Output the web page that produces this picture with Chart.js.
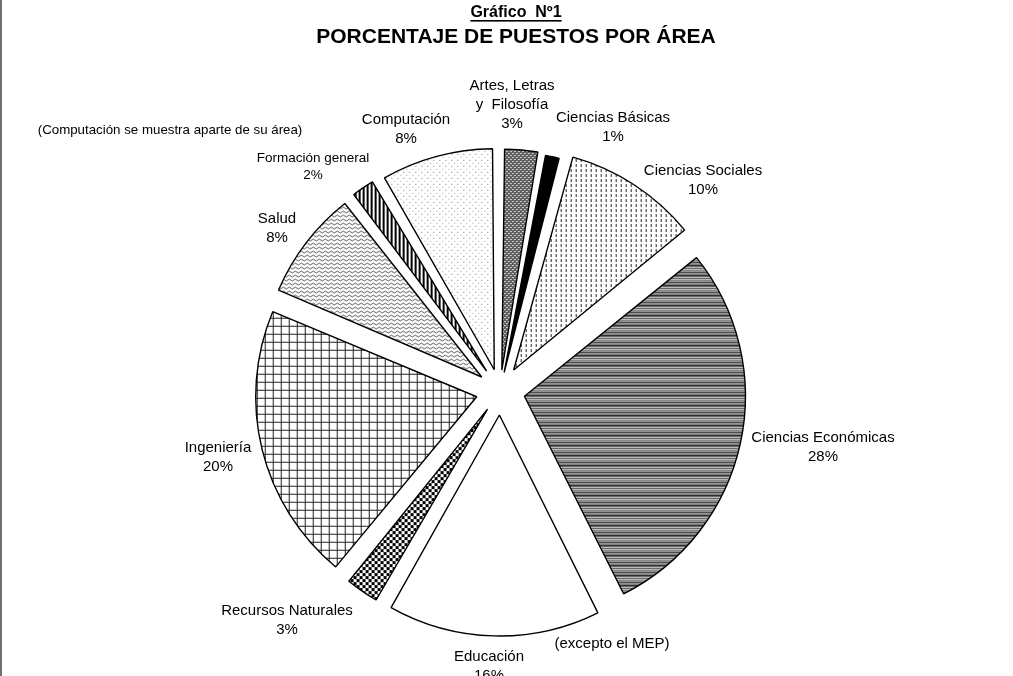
<!DOCTYPE html>
<html><head><meta charset="utf-8">
<script src="https://cdn.jsdelivr.net/npm/chart.js@4.4.1/dist/chart.umd.min.js"></script>
<style>
html,body{margin:0;padding:0;background:#fff;}
#wrap{position:relative;width:1013px;height:676px;overflow:hidden;background:#fff;}
#edge{position:absolute;left:0;top:0;width:2px;height:676px;background:#707070;}
canvas{display:block;}
</style></head><body>
<div id="wrap"><canvas id="c" width="1013" height="676"></canvas><div id="edge"></div></div>
<script>
// ---------- DATA ----------
const categories = ["Artes, Letras y Filosofía","Ciencias Básicas","Ciencias Sociales","Ciencias Económicas","Educación","Recursos Naturales","Ingeniería","Salud","Formación general","Computación"];
// slice shares estimated from the drawn angles
const shares = [2.8,1.4,10.0,28.4,15.6,2.8,20.3,8.2,2.1,8.4];
// percentages as printed on the chart
const percentLabels = ["3%","1%","10%","28%","16%","3%","20%","8%","2%","8%"];
const labelLines = [["Artes, Letras","y  Filosofía"],["Ciencias Básicas"],["Ciencias Sociales"],["Ciencias Económicas"],["Educación"],["Recursos Naturales"],["Ingeniería"],["Salud"],["Formación general"],["Computación"]];
const chartTitle = "Gráfico  Nº1";
const chartSubtitle = "PORCENTAJE DE PUESTOS POR ÁREA";
const noteComputacion = "(Computación se muestra aparte de su área)";
const noteEducacion = "(excepto el MEP)";

// ---------- STYLE ----------
const FONT = '"Liberation Sans", Arial, Helvetica, sans-serif';
const PIE_RADIUS = 221;
// Chart.js v4 translates an arc by offset/4
const sliceOffsets = [84,76,100,100,96,88,96,92,96,88];
// label anchor (first line centre) relative to pie centre
const labelAnchors = [[12,-305],[113,-273],[203,-220],[323,47],[-11,266],[-213,220],[-282,57],[-223,-172],[-187,-233],[-94,-271]];
const labelSizes = [15,15,15,15,15,15,15,15,13.5,15];

function pat(w,h,fn){
  const c=document.createElement('canvas');c.width=w;c.height=h;
  const x=c.getContext('2d');fn(x,w,h);
  return document.getElementById('c').getContext('2d').createPattern(c,'repeat');
}
const patterns = [
  pat(4,4,(x)=>{x.fillStyle='#5a5a5a';x.fillRect(0,0,4,4);x.fillStyle='#e0e0e0';x.fillRect(0,0,2,1);x.fillRect(2,2,2,1);}),
  '#000000',
  pat(5,5,(x)=>{x.fillStyle='#fff';x.fillRect(0,0,5,5);x.fillStyle='#222';x.fillRect(2,0,1,3);}),
  pat(1,10,(x)=>{const cols=['#1a1a1a','#8a8a8a','#cfcfcf','#3a3a3a','#efefef','#5c5c5c','#a8a8a8','#262626','#c0c0c0','#666666'];cols.forEach((c,i)=>{x.fillStyle=c;x.fillRect(0,i,1,1);});}),
  '#ffffff',
  pat(6,6,(x)=>{x.fillStyle='#fff';x.fillRect(0,0,6,6);x.fillStyle='#000';x.fillRect(0,0,3,3);x.fillRect(3,3,3,3);}),
  pat(8,8,(x)=>{x.fillStyle='#fff';x.fillRect(0,0,8,8);x.fillStyle='#222';x.fillRect(0,0,8,1);x.fillRect(0,0,1,8);}),
  pat(6,4,(x)=>{x.fillStyle='#fff';x.fillRect(0,0,6,4);x.strokeStyle='#555';x.lineWidth=1;x.beginPath();x.moveTo(0,2);x.quadraticCurveTo(1.5,0,3,2);x.quadraticCurveTo(4.5,4,6,2);x.stroke();}),
  pat(4,4,(x)=>{x.fillStyle='#fff';x.fillRect(0,0,4,4);x.fillStyle='#000';x.fillRect(0,0,2,4);}),
  pat(6,6,(x)=>{x.fillStyle='#fff';x.fillRect(0,0,6,6);x.fillStyle='#777';x.fillRect(1,1,1,1);x.fillStyle='#aaa';x.fillRect(4,4,1,1);})
];

// keep every exploded slice at the same outer radius (v4 enlarges narrow offset slices)
const radiusFix = {
  id:'radiusFix',
  beforeDatasetsDraw(chart){
    const meta=chart.getDatasetMeta(0);
    const R=meta.controller.outerRadius;
    meta.data.forEach(a=>{
      const off=(a.options.offset||0)/4;
      const fix=1-Math.sin(Math.min(Math.PI,a.circumference||0));
      a.outerRadius=R-off*fix;
    });
  }
};

const textPlugin = {
  id:'texts',
  afterDraw(chart){
    const ctx=chart.ctx;
    const meta=chart.getDatasetMeta(0);
    ctx.save();
    ctx.fillStyle='#000';ctx.textAlign='center';ctx.textBaseline='middle';
    ctx.font='bold 16px '+FONT;
    ctx.fillText(chartTitle,516,13);
    const tw=ctx.measureText(chartTitle).width;
    ctx.fillRect(516-tw/2,20,tw,1.6);
    ctx.font='bold 21px '+FONT;
    ctx.fillText(chartSubtitle,516,37);
    meta.data.forEach((arc,i)=>{
      const fs=labelSizes[i];
      ctx.font=fs+'px '+FONT;
      const lines=labelLines[i].concat([percentLabels[i]]);
      const lh=fs*1.25;
      lines.forEach((t,k)=>ctx.fillText(t,arc.x+labelAnchors[i][0],arc.y+labelAnchors[i][1]+k*lh));
    });
    ctx.font='13.3px '+FONT;
    ctx.fillText(noteComputacion,170,130);
    ctx.font='15px '+FONT;
    ctx.fillText(noteEducacion,612,644);
    ctx.restore();
  }
};

new Chart(document.getElementById('c'),{
  type:'pie',
  data:{labels:categories,datasets:[{data:shares,backgroundColor:patterns,borderColor:'#000',borderWidth:1.4,offset:sliceOffsets,hoverOffset:0}]},
  options:{
    responsive:false,animation:false,devicePixelRatio:1,
    radius:PIE_RADIUS,
    layout:{padding:{left:0,right:13,top:106,bottom:0}},
    plugins:{legend:{display:false},tooltip:{enabled:false},title:{display:false}},
    events:[]
  },
  plugins:[radiusFix,textPlugin]
});
</script>
</body></html>
